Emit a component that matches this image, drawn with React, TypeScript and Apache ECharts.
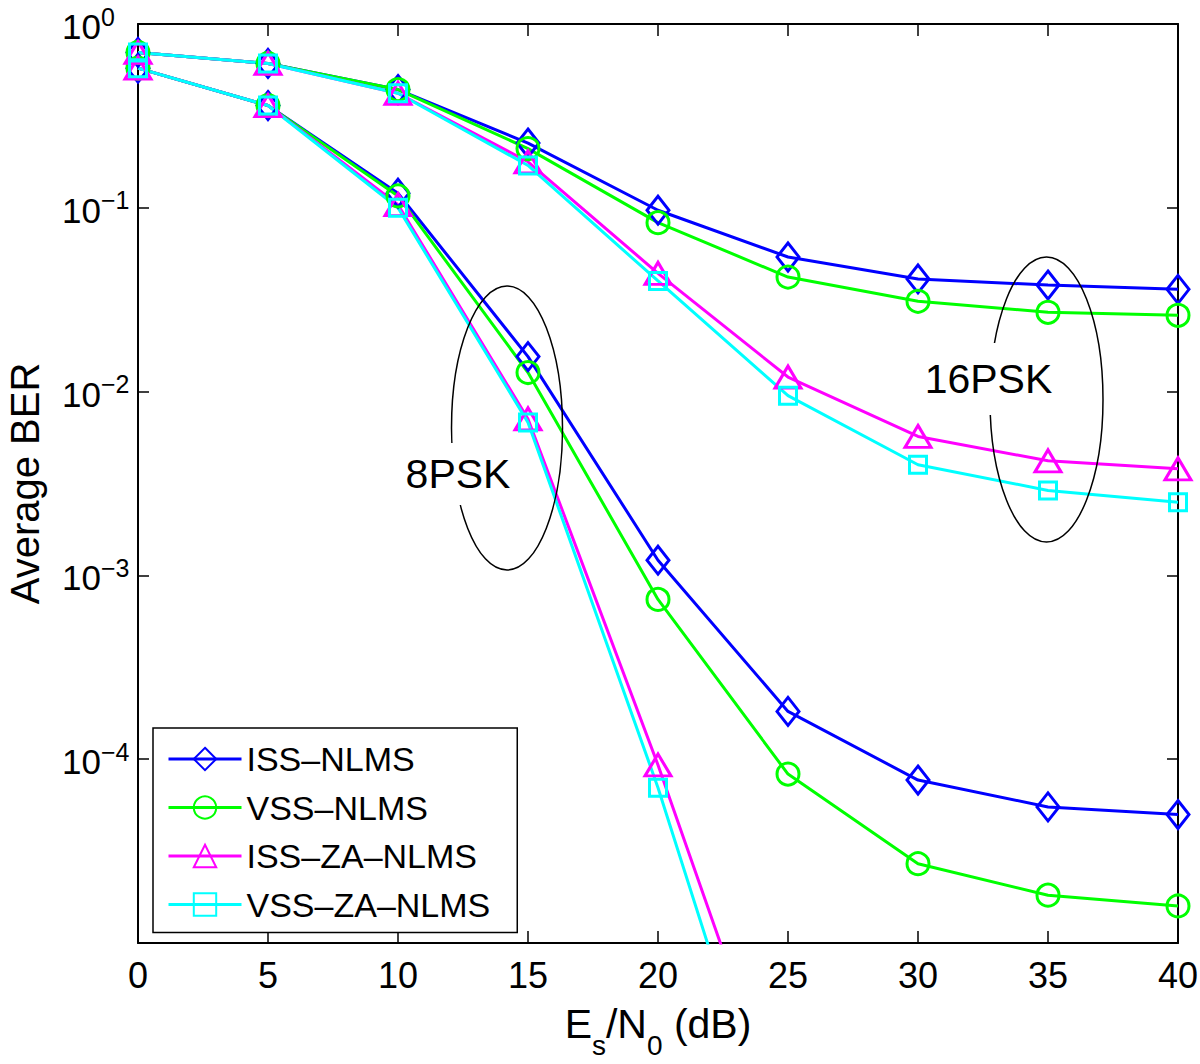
import React, { useEffect, useRef } from 'react';
import * as echarts from 'echarts';

// ---- Data ----
const snrDb = [0, 5, 10, 15, 20, 25, 30, 35, 40];

// 16PSK curves
const issNlms16 = [0.7, 0.61, 0.44, 0.225, 0.097, 0.054, 0.041, 0.038, 0.036];
const vssNlms16 = [0.7, 0.61, 0.44, 0.21, 0.083, 0.042, 0.031, 0.027, 0.026];
const issZaNlms16 = [0.7, 0.61, 0.42, 0.178, 0.044, 0.012, 0.0057, 0.0042, 0.0038];
const vssZaNlms16 = [0.7, 0.61, 0.42, 0.17, 0.04, 0.0095, 0.004, 0.0029, 0.0025];

// 8PSK curves
const issNlms8 = [0.575, 0.36, 0.12, 0.0155, 0.00121, 0.000182, 0.000077, 0.000055, 0.00005];
const vssNlms8 = [0.575, 0.36, 0.116, 0.0127, 0.00074, 0.000083, 0.000027, 0.0000182, 0.0000159];
const issZaNlms8 = [0.575, 0.36, 0.104, 0.0071, 0.000093, 0.00000089];
const vssZaNlms8 = [0.575, 0.36, 0.1, 0.0068, 0.00007, 0.00000042];

const methodNames = ['ISS–NLMS', 'VSS–NLMS', 'ISS–ZA–NLMS', 'VSS–ZA–NLMS'];
const methodColors = ['#0000ff', '#00ff00', '#ff00ff', '#00ffff'];
const methodSymbols = ['diamond', 'circle', 'triangle', 'rect'];
const methodSymbolSizes: any[] = [[22, 28], 22, [26, 22], 17];

const curves16 = [issNlms16, vssNlms16, issZaNlms16, vssZaNlms16];
const curves8 = [issNlms8, vssNlms8, issZaNlms8, vssZaNlms8];

const xTickValues = [0, 5, 10, 15, 20, 25, 30, 35, 40];
const yMin = 1e-5;
const yMax = 1;
// minor ticks at 2..9 x 10^e (given as exponents, the log axis' internal space)
const yMinorTickExponents: number[] = [];
for (let e = -5; e < 0; e++) {
  for (let m = 2; m <= 9; m++) yMinorTickExponents.push(Math.log10(m * Math.pow(10, e)));
}

const FONT = '"Liberation Sans", Arial, Helvetica, sans-serif';

export default function App() {
  const ref = useRef<HTMLDivElement>(null);

  useEffect(() => {
    document.body.style.margin = '0';
    if (!ref.current) return;
    const chart = echarts.init(ref.current, undefined, { renderer: 'svg' });

    const series: any[] = [];
    methodNames.forEach((name, i) => {
      [curves16[i], curves8[i]].forEach((vals) => {
        series.push({
          name,
          type: 'line',
          xAxisIndex: 0,
          yAxisIndex: 0,
          data: vals.map((v, k) => [snrDb[k], v]),
          symbol: methodSymbols[i],
          symbolSize: methodSymbolSizes[i],
          showSymbol: true,
          clip: true,
          lineStyle: { color: methodColors[i], width: 3 },
          itemStyle: { color: 'rgba(0,0,0,0)', borderColor: methodColors[i], borderWidth: 3 },
          emphasis: { disabled: true },
        });
      });
    });

    const yLabelFormatter = (v: number) => {
      const e = Math.round(Math.log10(v));
      const exp = e === 0 ? '0' : '−' + String(-e);
      return `{b|10}{s|${exp}}`;
    };

    const minorAxis = (position: string) => ({
      type: 'log',
      logBase: 10,
      position,
      min: yMin,
      max: yMax,
      axisLine: { show: false },
      axisTick: {
        show: true,
        inside: true,
        length: 6,
        customValues: yMinorTickExponents,
        lineStyle: { color: '#000', width: 1.5 },
      },
      axisLabel: { show: false },
      splitLine: { show: false },
    });

    const option: any = {
      animation: false,
      backgroundColor: '#ffffff',
      textStyle: { fontFamily: FONT },
      grid: { left: 138, right: 22, top: 24, bottom: 121, containLabel: false, outerBoundsMode: 'none' },
      legend: {
        orient: 'vertical',
        left: 153,
        top: 728,
        padding: [14, 27, 11, 14],
        itemGap: 14.5,
        itemWidth: 73,
        itemHeight: 28,
        backgroundColor: '#ffffff',
        borderColor: '#000000',
        borderWidth: 1.5,
        borderRadius: 0,
        data: methodNames,
        lineStyle: { width: 3 },
        textStyle: { fontSize: 34, fontFamily: FONT, color: '#000' },
      },
      xAxis: [
        {
          type: 'value',
          position: 'bottom',
          min: 0,
          max: 40,
          interval: 5,
          name: '{n|E}{sub|s}{n|/N}{sub|0}{n| (dB)}',
          nameLocation: 'middle',
          nameGap: 60,
          nameTextStyle: {
            rich: {
              n: { fontSize: 41, lineHeight: 40, fontFamily: FONT, color: '#000', verticalAlign: 'top' },
              sub: { fontSize: 28, lineHeight: 56, fontFamily: FONT, color: '#000', verticalAlign: 'bottom' },
            },
          },
          axisLine: { show: true, onZero: false, lineStyle: { color: '#000', width: 2 } },
          axisTick: { show: true, inside: true, length: 12, lineStyle: { color: '#000', width: 1.5 } },
          axisLabel: { show: true, fontSize: 36, fontFamily: FONT, color: '#000', margin: 14 },
          splitLine: { show: false },
          data: xTickValues,
        },
        {
          type: 'value',
          position: 'top',
          min: 0,
          max: 40,
          interval: 5,
          axisLine: { show: true, onZero: false, lineStyle: { color: '#000', width: 2 } },
          axisTick: { show: true, inside: true, length: 12, lineStyle: { color: '#000', width: 1.5 } },
          axisLabel: { show: false },
          splitLine: { show: false },
        },
      ],
      yAxis: [
        {
          type: 'log',
          logBase: 10,
          position: 'left',
          min: yMin,
          max: yMax,
          splitNumber: 5,
          name: 'Average BER',
          nameLocation: 'middle',
          nameGap: 94,
          nameTextStyle: { fontSize: 40, lineHeight: 38, fontFamily: FONT, color: '#000' },
          axisLine: { show: true, onZero: false, lineStyle: { color: '#000', width: 2 } },
          axisTick: { show: true, inside: true, length: 11, lineStyle: { color: '#000', width: 1.5 } },
          axisLabel: {
            show: true,
            showMinLabel: false,
            align: 'left',
            margin: 76,
            formatter: yLabelFormatter,
            rich: {
              b: { fontSize: 35, lineHeight: 40, fontFamily: FONT, color: '#000', verticalAlign: 'bottom' },
              s: { fontSize: 25, lineHeight: 17, fontFamily: FONT, color: '#000', verticalAlign: 'top' },
            },
          },
          splitLine: { show: false },
        },
        minorAxis('left'),
        {
          type: 'log',
          logBase: 10,
          position: 'right',
          min: yMin,
          max: yMax,
          splitNumber: 5,
          axisLine: { show: true, onZero: false, lineStyle: { color: '#000', width: 2 } },
          axisTick: { show: true, inside: true, length: 11, lineStyle: { color: '#000', width: 1.5 } },
          axisLabel: { show: false },
          splitLine: { show: false },
        },
        minorAxis('right'),
      ],
      graphic: [
        {
          type: 'ellipse',
          shape: { cx: 507, cy: 428, rx: 55.5, ry: 142 },
          style: { fill: 'none', stroke: '#000', lineWidth: 1.5 },
          z: 10,
        },
        {
          type: 'text',
          x: 458,
          y: 474,
          style: {
            text: '8PSK',
            font: `41px ${FONT}`,
            fill: '#000',
            align: 'center',
            verticalAlign: 'middle',
            lineHeight: 40,
            backgroundColor: '#fff',
            padding: [10, 3, 12, 3],
          },
          z: 11,
        },
        {
          type: 'ellipse',
          shape: { cx: 1046.5, cy: 399.5, rx: 56.5, ry: 142.5 },
          style: { fill: 'none', stroke: '#000', lineWidth: 1.5 },
          z: 10,
        },
        {
          type: 'text',
          x: 988.5,
          y: 379,
          style: {
            text: '16PSK',
            font: `41px ${FONT}`,
            fill: '#000',
            align: 'center',
            verticalAlign: 'middle',
            lineHeight: 40,
            backgroundColor: '#fff',
            padding: [9, 3, 23, 3],
          },
          z: 11,
        },
      ],
      series,
    };

    chart.setOption(option);
    return () => {
      chart.dispose();
    };
  }, []);

  return <div ref={ref} style={{ width: 1200, height: 1064 }} />;
}
